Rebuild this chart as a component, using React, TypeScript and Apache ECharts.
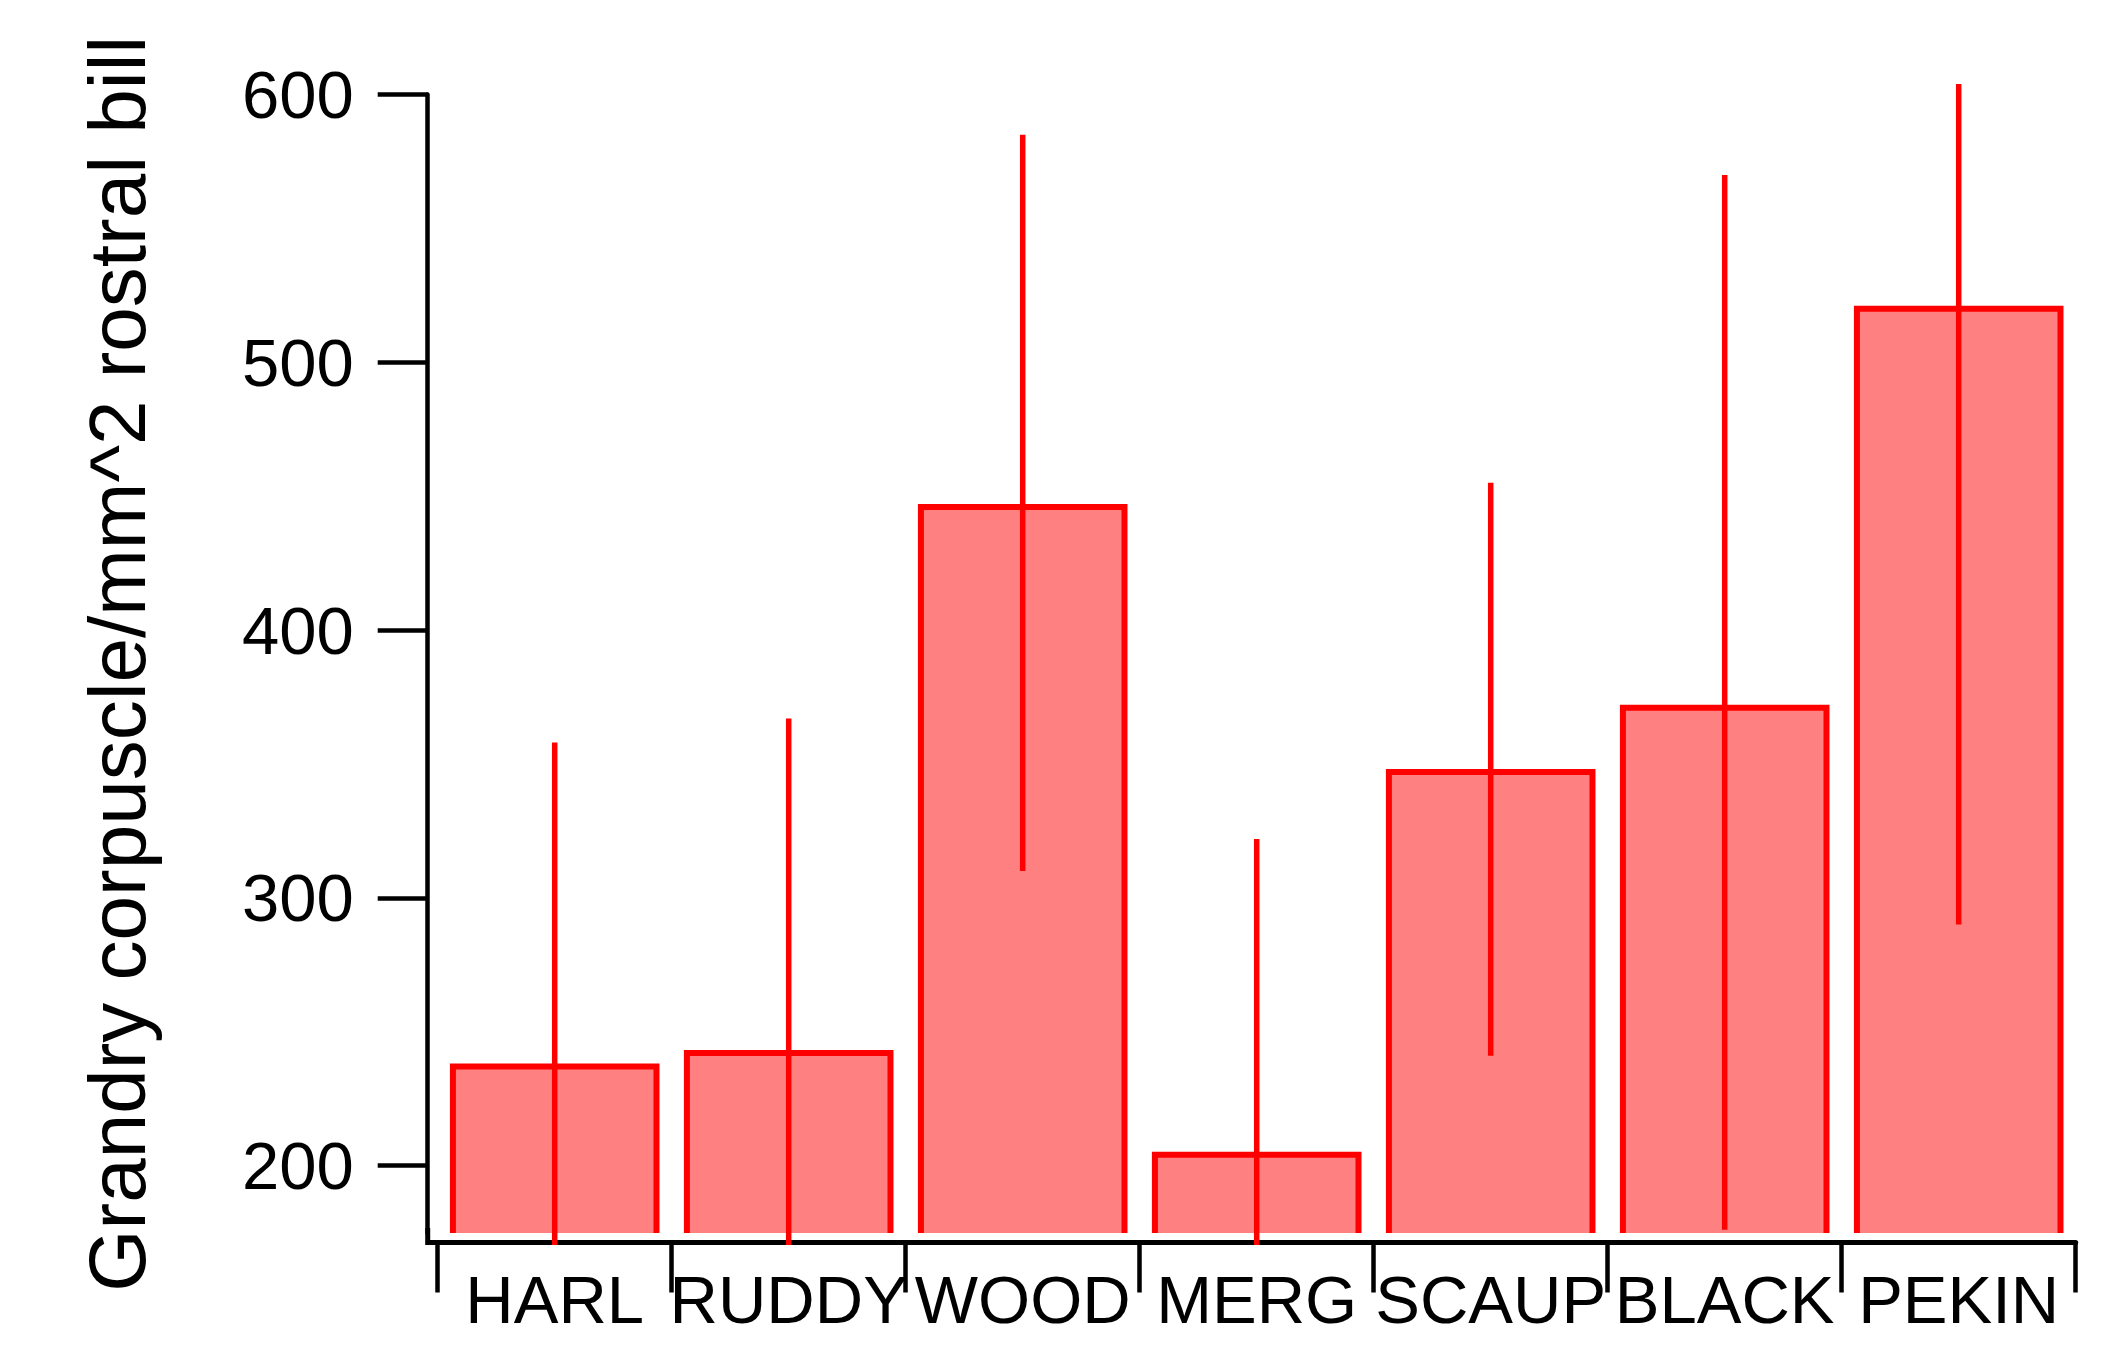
import React, { useEffect, useRef } from "react";
import * as echarts from "echarts";

// ---- data ----
const categories = ["HARL", "RUDDY", "WOOD", "MERG", "SCAUP", "BLACK", "PEKIN"];
const means = [237, 242, 446, 204, 347, 371, 520];
const errorLow = [117, 117, 310, 86, 241, 176, 290];
const errorHigh = [358, 367, 585, 322, 455, 570, 604];
const yTicks = [200, 300, 400, 500, 600];
const yTitle = "Grandry corpuscle/mm^2 rostral bill";

const Y_MIN = 174.8;
const Y_MAX = 600;

const FILL = "#FF8080";
const EDGE = "#FF0000";
const BAR_GAP = 0.13;
const FONT = "Liberation Sans";

export default function App() {
  const ref = useRef<HTMLDivElement>(null);

  useEffect(() => {
    if (!ref.current) return;
    const chart = echarts.init(ref.current, null, { renderer: "svg" });

    const renderItem = (params: any, api: any) => {
      const i = api.value(0);
      const mean = api.value(1);
      const lo = api.value(2);
      const hi = api.value(3);
      const cs = params.coordSys;
      const baseY = cs.y + cs.height;
      const top = api.coord([i, mean]);
      const cx = top[0];
      const topY = top[1];
      const halfW = (api.size([1, 0])[0] * (1 - BAR_GAP)) / 2;
      const hiY = api.coord([i, hi])[1];
      const loY = lo < Y_MIN ? baseY + 12 : api.coord([i, lo])[1];
      return {
        type: "group",
        children: [
          {
            type: "polyline",
            shape: {
              points: [
                [cx - halfW, baseY],
                [cx - halfW, topY],
                [cx + halfW, topY],
                [cx + halfW, baseY],
              ],
            },
            style: { stroke: EDGE, lineWidth: 6, fill: null },
          },
          {
            type: "line",
            shape: { x1: cx, y1: loY, x2: cx, y2: hiY },
            style: { stroke: EDGE, lineWidth: 5.5 },
          },
        ],
      };
    };

    chart.setOption({
      animation: false,
      backgroundColor: "#ffffff",
      grid: { left: 437.7, right: 44.3, top: 94.6, bottom: 115 },
      xAxis: {
        type: "category",
        data: categories,
        offset: 9.5,
        axisLine: { show: true, lineStyle: { color: "#000", width: 5 } },
        axisTick: { show: true, length: 50, lineStyle: { color: "#000", width: 4.5 } },
        axisLabel: {
          interval: 0,
          margin: 23,
          color: "#000",
          fontSize: 67,
          fontFamily: FONT,
        },
        splitLine: { show: false },
      },
      yAxis: {
        type: "value",
        min: Y_MIN,
        max: Y_MAX,
        offset: 10,
        name: yTitle,
        nameLocation: "middle",
        nameGap: 270,
        nameTextStyle: { fontSize: 80, fontFamily: FONT, color: "#000" },
        axisLine: { show: true, lineStyle: { color: "#000", width: 4.5 } },
        axisTick: {
          show: true,
          length: 50,
          customValues: yTicks,
          lineStyle: { color: "#000", width: 4.5 },
        },
        axisLabel: {
          margin: 74,
          customValues: yTicks,
          color: "#000",
          fontSize: 67,
          fontFamily: FONT,
          padding: [0, 0, 9, 0],
        },
        splitLine: { show: false },
      },
      graphic: [
        {
          type: "polyline",
          shape: {
            points: [
              [427.7, 1228],
              [427.7, 1242.5],
              [442, 1242.5],
            ],
          },
          style: { stroke: "#000", lineWidth: 5, fill: null },
          z: 1,
        },
      ],
      series: [
        {
          type: "bar",
          data: means,
          barCategoryGap: `${BAR_GAP * 100}%`,
          itemStyle: { color: FILL },
          z: 2,
        },
        {
          type: "custom",
          data: categories.map((_, i) => [i, means[i], errorLow[i], errorHigh[i]]),
          renderItem,
          clip: false,
          z: 3,
        },
      ],
    });

    return () => chart.dispose();
  }, []);

  return (
    <div
      ref={ref}
      style={{ position: "absolute", left: 0, top: 0, width: 2120, height: 1348 }}
    />
  );
}
